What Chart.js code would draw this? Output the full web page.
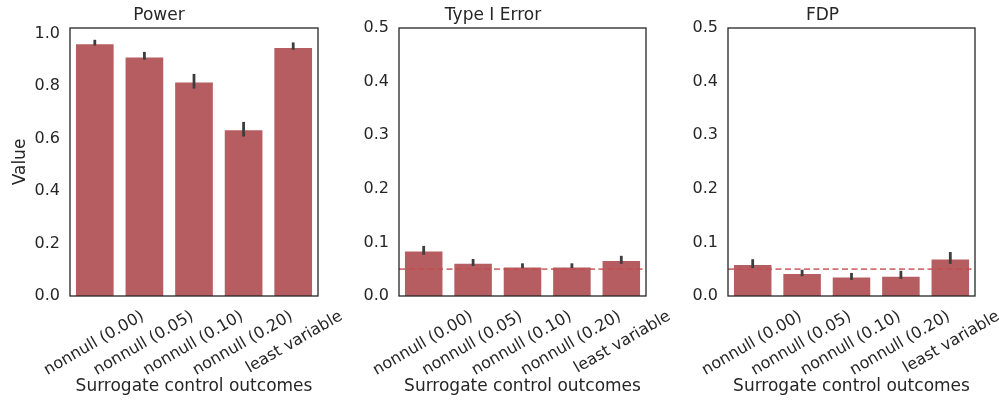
<!DOCTYPE html>
<html>
<head>
<meta charset="utf-8">
<script src="https://cdn.jsdelivr.net/npm/chart.js@4.4.1/dist/chart.umd.min.js"></script>
<style>
    body { margin: 0; background: #fff; }
    #container { position: relative; width: 999px; height: 402px; overflow: hidden; }
    canvas { position: absolute; top: 0; }
</style>
</head>
<body>
<div id="container">
    <canvas id="power" width="345" height="402" style="left:0px"></canvas>
    <canvas id="typeI" width="330" height="402" style="left:340px"></canvas>
    <canvas id="fdp" width="329" height="402" style="left:670px"></canvas>
</div>
<script>
const categories = ['nonnull (0.00)', 'nonnull (0.05)', 'nonnull (0.10)', 'nonnull (0.20)', 'least variable'];

const powerMean = [0.964, 0.913, 0.818, 0.636, 0.950];
const powerLow = [0.955, 0.901, 0.791, 0.608, 0.939];
const powerHigh = [0.977, 0.931, 0.847, 0.664, 0.967];

const typeIMean = [0.085, 0.062, 0.055, 0.055, 0.067];
const typeILow = [0.077, 0.056, 0.052, 0.052, 0.060];
const typeIHigh = [0.0935, 0.069, 0.061, 0.061, 0.075];

const fdpMean = [0.0595, 0.043, 0.0365, 0.038, 0.070];
const fdpLow = [0.052, 0.037, 0.030, 0.032, 0.060];
const fdpHigh = [0.0686, 0.049, 0.043, 0.047, 0.082];

const nominalLevel = 0.05;

const powerTicks = [0.0, 0.2, 0.4, 0.6, 0.8, 1.0];
const rateTicks = [0.0, 0.1, 0.2, 0.3, 0.4, 0.5];

const textColor = '#262626';
const fontFamily = "'DejaVu Sans', sans-serif";

// error bars, optional dashed reference line, and the full box around the axes
const errorBars = {
    id: 'errorBars',
    afterDatasetsDraw(chart, args, opts) {
        const { ctx, chartArea, scales: { x, y } } = chart;
        ctx.save();
        ctx.strokeStyle = '#3d3d3d';
        ctx.lineWidth = 2.8;
        opts.low.forEach((lo, i) => {
            let px = x.getPixelForValue(i);
            ctx.beginPath();
            ctx.moveTo(px, y.getPixelForValue(lo));
            ctx.lineTo(px, y.getPixelForValue(opts.high[i]));
            ctx.stroke();
        });
        if (opts.ref != null) {
            let py = y.getPixelForValue(opts.ref);
            ctx.strokeStyle = 'rgba(196, 78, 82, 0.8)';
            ctx.lineWidth = 1.8;
            ctx.setLineDash([6, 3.5]);
            ctx.beginPath();
            ctx.moveTo(chartArea.left, py);
            ctx.lineTo(chartArea.right, py);
            ctx.stroke();
            ctx.setLineDash([]);
        }
        ctx.strokeStyle = textColor;
        ctx.lineWidth = 1.3;
        ctx.strokeRect(chartArea.left, chartArea.top, chartArea.right - chartArea.left, chartArea.bottom - chartArea.top);
        ctx.restore();
    }
};

function createChart(id, title, means, low, high, yMax, yTicks, ref, yTitle, yWidth, padRight) {
    return new Chart(document.getElementById(id), {
        type: 'bar',
        data: {
            labels: categories,
            datasets: [{
                data: means,
                backgroundColor: '#b55d60',
                borderColor: 'rgba(255, 255, 255, 0.35)',
                borderWidth: 1,
                barPercentage: 0.8,
                categoryPercentage: 1.0
            }]
        },
        options: {
            responsive: false,
            animation: false,
            layout: { padding: { left: 0, right: padRight, top: 0, bottom: 0 } },
            plugins: {
                legend: { display: false },
                tooltip: { enabled: false },
                title: {
                    display: true,
                    text: title,
                    color: textColor,
                    font: { family: fontFamily, size: 17, weight: 'normal' },
                    padding: { top: 5, bottom: 2.6 }
                },
                errorBars: { low: low, high: high, ref: ref }
            },
            scales: {
                x: {
                    grid: { display: false, drawTicks: false },
                    border: { display: false },
                    ticks: {
                        color: textColor,
                        font: { family: fontFamily, size: 16 },
                        minRotation: 30,
                        maxRotation: 30,
                        autoSkip: false,
                        labelOffset: 48,
                        padding: 11
                    },
                    title: {
                        display: true,
                        text: 'Surrogate control outcomes',
                        color: textColor,
                        font: { family: fontFamily, size: 17 },
                        padding: { top: 0, bottom: 5 }
                    },
                    afterFit: s => {
                        s.height = 106;
                        s.paddingLeft = 0;
                        s.paddingRight = 0;
                    }
                },
                y: {
                    min: 0,
                    max: yMax,
                    grid: { display: false, drawTicks: false },
                    border: { display: false },
                    afterBuildTicks: s => { s.ticks = yTicks.map(v => ({ value: v })); },
                    ticks: {
                        color: textColor,
                        font: { family: fontFamily, size: 16 },
                        padding: 10,
                        callback: v => v.toFixed(1)
                    },
                    title: {
                        display: yTitle != null,
                        text: yTitle || '',
                        color: textColor,
                        font: { family: fontFamily, size: 17 },
                        padding: { top: 10, bottom: 0 }
                    },
                    afterFit: s => {
                        s.width = yWidth;
                        s.paddingTop = 0;
                        s.paddingBottom = 0;
                    }
                }
            }
        },
        plugins: [errorBars]
    });
}

createChart('power', 'Power', powerMean, powerLow, powerHigh, 1.022, powerTicks, null, 'Value', 70, 27);
createChart('typeI', 'Type I Error', typeIMean, typeILow, typeIHigh, 0.5, rateTicks, nominalLevel, null, 59, 24);
createChart('fdp', 'FDP', fdpMean, fdpLow, fdpHigh, 0.5, rateTicks, nominalLevel, null, 58, 24);
</script>
</body>
</html>
